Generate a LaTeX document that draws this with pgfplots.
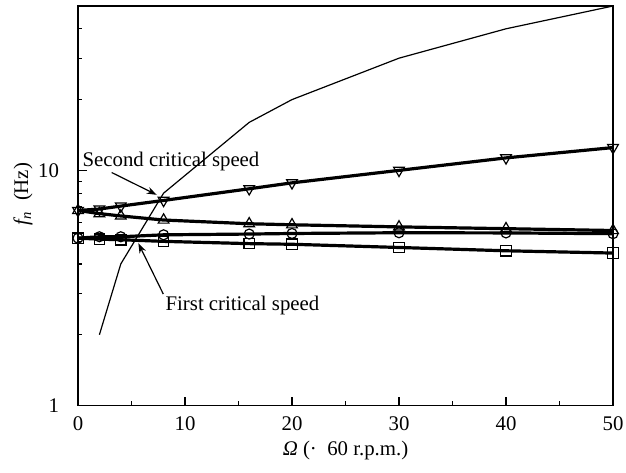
\documentclass[border=0pt]{standalone}
\usepackage{fontspec}
\setmainfont{Liberation Serif}
\usepackage{pgfplots}
\pgfplotsset{compat=1.18}
\usetikzlibrary{arrows.meta}
\begin{document}
\begin{tikzpicture}[font=\fontsize{10.4pt}{12pt}\selectfont]
\begin{axis}[
  scale only axis, width=267.5pt, height=199.75pt,
  xmin=0, xmax=50, ymode=log, ymin=1, ymax=50,
  xtick={0,10,...,50}, minor xtick={5,15,...,45},
  ytick={1,10}, yticklabels={1,10}, minor ytick={2,3,4,5,6,7,8,9,20,30,40},
  tick pos=left, tick align=inside,
  major tick length=4.5pt, minor tick length=2.2pt,
  axis line style={line width=0.8pt},
  tick style={line width=0.6pt, black},
  /pgf/number format/assume math mode=true,
  xticklabel style={yshift=-2pt},
  yticklabel style={xshift=-6pt},
  xlabel={{\itshape Ω} (·\hspace{0.5em}60 r.p.m.)},
  ylabel={{\itshape f}\textsubscript{\itshape n}\hspace{0.5em}(Hz)},
  xlabel style={at={(axis description cs:0.5,-0.1115)}, anchor=center},
  ylabel style={at={(axis description cs:-0.103,0.529)}, anchor=center},
  clip=false, axis on top,
]
% rotating speed line f = Omega
\addplot[black, line width=0.6pt, mark=none] coordinates {
  (2,2) (4,4) (8,8) (16,16) (20,20) (30,30) (40,40) (50,50)};
% square series
\addplot[black, line width=1.6pt, mark=square, mark size=2.6pt,
  mark options={fill=white, line width=0.6pt, solid}] coordinates {
  (0,5.15) (2,5.10) (4,5.07) (8,4.99) (16,4.88) (20,4.85) (30,4.70) (40,4.55) (50,4.45)};
% circle series
\addplot[black, line width=1.6pt, mark=o, mark size=2.5pt,
  mark options={fill=white, line width=0.6pt, solid}] coordinates {
  (0,5.15) (2,5.22) (4,5.22) (8,5.32) (16,5.36) (20,5.39) (30,5.43) (40,5.42) (50,5.38)};
% up triangle series
\addplot[black, line width=1.6pt, mark=triangle, mark size=3.1pt,
  mark options={fill=white, line width=0.6pt, solid}] coordinates {
  (0,6.75) (2,6.55) (4,6.40) (8,6.15) (16,5.93) (20,5.87) (30,5.75) (40,5.65) (50,5.55)};
% down triangle series
\addplot[black, line width=1.6pt, mark=triangle, mark size=3.1pt,
  mark options={fill=white, line width=0.6pt, solid, rotate=180}] coordinates {
  (0,6.75) (2,6.85) (4,7.05) (8,7.45) (16,8.35) (20,8.85) (30,10.0) (40,11.3) (50,12.5)};
\node[anchor=base] at (axis cs:8.69,10.38) {Second critical speed};
\node[anchor=base] at (axis cs:15.37,2.53) {First critical speed};
\draw[line width=0.6pt, -{Stealth[length=5pt,width=3.5pt]}] (axis cs:3.15,9.79) -- (axis cs:7.36,7.87);
\draw[line width=0.6pt, -{Stealth[length=5pt,width=3.5pt]}] (axis cs:7.97,2.98) -- (axis cs:5.64,4.90);
\end{axis}
\pgfresetboundingbox
\path[use as bounding box] ([shift={(-39pt,-33.25pt)}]current axis.south west) rectangle ([shift={(6.5pt,3pt)}]current axis.north east);
\end{tikzpicture}
\end{document}
